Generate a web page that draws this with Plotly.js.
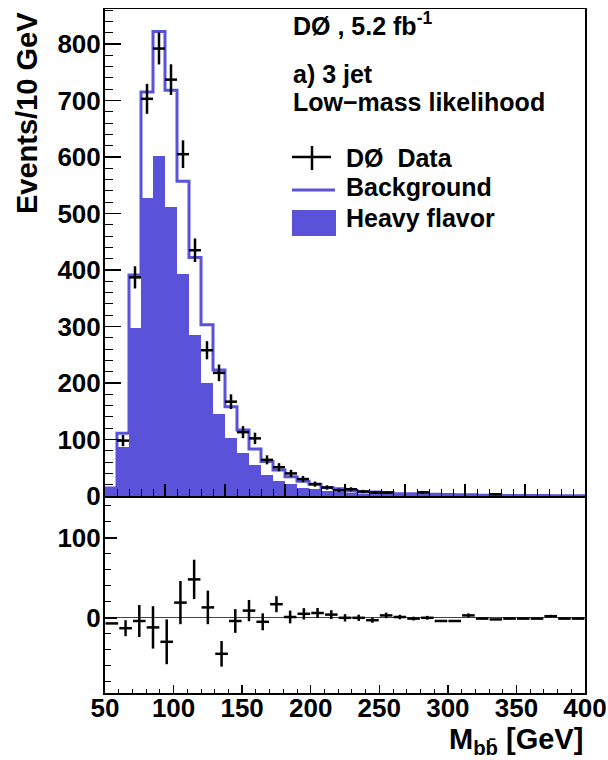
<!DOCTYPE html>
<html>
<head>
<meta charset="utf-8">
<script src="https://cdn.plot.ly/plotly-3.0.1.min.js"></script>
<style>html,body{margin:0;padding:0;background:#fff;}#chart{width:608px;height:760px;}</style>
</head>
<body>
<div id="chart"></div>
<script>
// ---- data (top panel: 10 GeV bins, centres) ----
const binCenters = [45,55,65,75,85,95,105,115,125,135,145,155,165,175,185,195,205,215,225,235,
                    245,255,265,275,285,295,305,315,325,335,345,355,365,375,385,395,405,415,425,435];
const background = [14,111,391,715,822,718,557,422,303,223,158,117,83,61,46,34,26,21,15,13,
                    9,7,7,6,4,4,3.5,3,2.5,2,2,1.5,1.5,1,1,1,0.8,0.6,0.5,0.5];
const heavyFlavor = [12,87,297,527,602,512,393,285,200,145,103,77,55,38,26,22,15,12,9,7,
                     5,4,4,3,2.5,2,2,1.5,1.2,1,1,0.8,0.8,0.6,0.6,0.5,0.4,0.3,0.3,0.2];
const dataCounts = [null,98,387,703,792,737,605,435,258,218,167,113,102,64,51,40,30,21,15,10,
                    12,8,6,6,null,null,6.5,null,null,null,null,null,3,null,null,null,null,null,null,null];
// ---- lower panel: data - background ----
const residX = [55,65,75,85,95,105,115,125,135,145,155,165,175,185,195,205,215,225,235,245,
                255,265,275,285,295,305,315,325,335,345,355,365,375,385,395];
const residY = [-7,-13,-4,-12,-30,19,48,13,-45,-4,9,-5,17,1,5,6,4,0,0,-3,
                3,1,-1,0,-4,-4,3,-1,-2,-1,-1,-1,2,-1,-1];
const residErr = [0,10,20,26.5,28,27,24.6,21,16,14.8,13.3,10.6,10,8,7.1,6.3,5.5,4.6,3.9,3.2,
                  3.5,2.8,2.4,2.4,0,0,2.5,0,0,0,0,0,1.7,0,0,0];
const xTickLabels = ['50','100','150','200','250','300','350','400'];

// ---- styling ----
const BLUE = '#5a53d9';
const FONT = 'Liberation Sans, Arial, Helvetica, sans-serif';
const L = 105, R = 585, T = 9, B = 693, W = 608, H = 760;
const px2x = p => (p - L) / (R - L);
const py2y = p => (B - p) / (B - T);

// step outline for background histogram
const stepX = [binCenters[0] - 5], stepY = [0];
binCenters.forEach((c, i) => { stepX.push(c - 5); stepY.push(background[i]); });
stepX.push(binCenters[binCenters.length - 1] + 5); stepY.push(background[background.length - 1]);
stepX.push(binCenters[binCenters.length - 1] + 5); stepY.push(0);

const traces = [
  {type: 'bar', x: binCenters, y: heavyFlavor, width: 10, xaxis: 'x', yaxis: 'y',
   marker: {color: BLUE, line: {width: 0}}, hoverinfo: 'skip'},
  {type: 'scatter', mode: 'lines', x: stepX, y: stepY, xaxis: 'x', yaxis: 'y',
   line: {shape: 'hv', color: BLUE, width: 3}, hoverinfo: 'skip'},
  {type: 'scatter', mode: 'markers', x: binCenters, y: dataCounts, xaxis: 'x', yaxis: 'y',
   marker: {size: 1, color: 'black'},
   error_y: {type: 'data', array: dataCounts.map(v => v == null ? 0 : Math.sqrt(v)), thickness: 2.5, width: 0, color: 'black'},
   error_x: {type: 'constant', value: 5, thickness: 2.5, width: 0, color: 'black'}},
  {type: 'scatter', mode: 'markers', x: residX, y: residY, xaxis: 'x2', yaxis: 'y2',
   marker: {size: 1, color: 'black'},
   error_y: {type: 'data', array: residErr, thickness: 2.5, width: 0, color: 'black'},
   error_x: {type: 'constant', value: 4.6, thickness: 2.5, width: 0, color: 'black'}}
];

const tickFont = {family: FONT, size: 26, color: '#000', weight: 'bold'};
const textFont = {family: FONT, size: 25, color: '#000', weight: 'bold'};
const titleFont = {family: FONT, size: 29, color: '#000', weight: 'bold'};
const split = (B - 496) / (B - T);
const split2 = (B - 497) / (B - T);

const layout = {
  width: W, height: H,
  margin: {l: L, r: W - R, t: T, b: H - B, pad: 0},
  paper_bgcolor: '#fff', plot_bgcolor: '#fff',
  showlegend: false, bargap: 0,
  xaxis: {domain: [0, 1], anchor: 'y', range: [40, 440], showticklabels: false,
          ticks: 'inside', ticklen: 12, tickwidth: 1.5, tickcolor: '#000', tick0: 40, dtick: 50,
          minor: {ticks: 'inside', ticklen: 7, tickwidth: 1, tickcolor: '#000', dtick: 10},
          showline: true, mirror: true, linecolor: '#000', linewidth: 1.5,
          showgrid: false, zeroline: false},
  yaxis: {domain: [split, 1], anchor: 'x', range: [0, 862],
          ticks: 'inside', ticklen: 16, tickwidth: 1.5, tickcolor: '#000', tick0: 0, dtick: 100,
          minor: {ticks: 'inside', ticklen: 8, tickwidth: 1, tickcolor: '#000', dtick: 20},
          showline: true, mirror: true, linecolor: '#000', linewidth: 2,
          showgrid: false, zeroline: false, tickfont: tickFont, ticklabelstandoff: -3},
  xaxis2: {domain: [0, 1], anchor: 'y2', range: [50, 400],
           tickvals: [50,100,150,200,250,300,350,400], ticktext: xTickLabels,
           ticks: 'inside', ticklen: 8, tickwidth: 1.5, tickcolor: '#000',
           minor: {ticks: 'inside', ticklen: 4, tickwidth: 1, tickcolor: '#000', dtick: 10, tick0: 50},
           showline: true, mirror: true, linecolor: '#000', linewidth: 1.5,
           showgrid: false, zeroline: false, tickfont: tickFont, ticklabelstandoff: -9},
  yaxis2: {domain: [0, split2], anchor: 'x2', range: [-94, 151],
           ticks: 'inside', ticklen: 12, tickwidth: 1.5, tickcolor: '#000', tick0: 0, dtick: 100,
           minor: {ticks: 'inside', ticklen: 6, tickwidth: 1, tickcolor: '#000', dtick: 20},
           showline: true, mirror: true, linecolor: '#000', linewidth: 2,
           showgrid: false, zeroline: true, zerolinecolor: '#444', zerolinewidth: 1,
           tickfont: tickFont, ticklabelstandoff: -3},
  shapes: [
    // legend: data cross
    {type: 'line', xref: 'paper', yref: 'paper', x0: px2x(292), x1: px2x(331), y0: py2y(157), y1: py2y(157), line: {color: '#000', width: 2.5}},
    {type: 'line', xref: 'paper', yref: 'paper', x0: px2x(312), x1: px2x(312), y0: py2y(146), y1: py2y(170), line: {color: '#000', width: 2.5}},
    // legend: background line
    {type: 'line', xref: 'paper', yref: 'paper', x0: px2x(292), x1: px2x(335), y0: py2y(190), y1: py2y(190), line: {color: BLUE, width: 3}},
    // legend: heavy flavour box
    {type: 'rect', xref: 'paper', yref: 'paper', x0: px2x(292), x1: px2x(336), y0: py2y(210), y1: py2y(236), fillcolor: BLUE, line: {width: 0}}
  ],
  annotations: [
    {xref: 'paper', yref: 'paper', x: px2x(291), y: py2y(24), xanchor: 'left', yanchor: 'middle', showarrow: false,
     text: 'DØ , 5.2 fb<sup>-1</sup>', font: textFont},
    {xref: 'paper', yref: 'paper', x: px2x(291), y: py2y(74), xanchor: 'left', yanchor: 'middle', showarrow: false,
     text: 'a) 3 jet', font: textFont},
    {xref: 'paper', yref: 'paper', x: px2x(291), y: py2y(102), xanchor: 'left', yanchor: 'middle', showarrow: false,
     text: 'Low\u2212mass likelihood', font: textFont},
    {xref: 'paper', yref: 'paper', x: px2x(344), y: py2y(158), xanchor: 'left', yanchor: 'middle', showarrow: false,
     text: 'DØ  Data', font: textFont},
    {xref: 'paper', yref: 'paper', x: px2x(344), y: py2y(187), xanchor: 'left', yanchor: 'middle', showarrow: false,
     text: 'Background', font: textFont},
    {xref: 'paper', yref: 'paper', x: px2x(344), y: py2y(218), xanchor: 'left', yanchor: 'middle', showarrow: false,
     text: 'Heavy flavor', font: textFont},
    {xref: 'paper', yref: 'paper', x: px2x(27), y: py2y(113), xanchor: 'center', yanchor: 'middle', showarrow: false,
     textangle: -90, text: 'Events/10 GeV', font: titleFont},
    {xref: 'paper', yref: 'paper', x: px2x(585), y: py2y(741), xanchor: 'right', yanchor: 'middle', showarrow: false,
     text: 'M<sub>bb\u0304</sub> [GeV]', font: titleFont}
  ]
};

Plotly.newPlot('chart', traces, layout, {displayModeBar: false, staticPlot: true});
</script>
</body>
</html>
